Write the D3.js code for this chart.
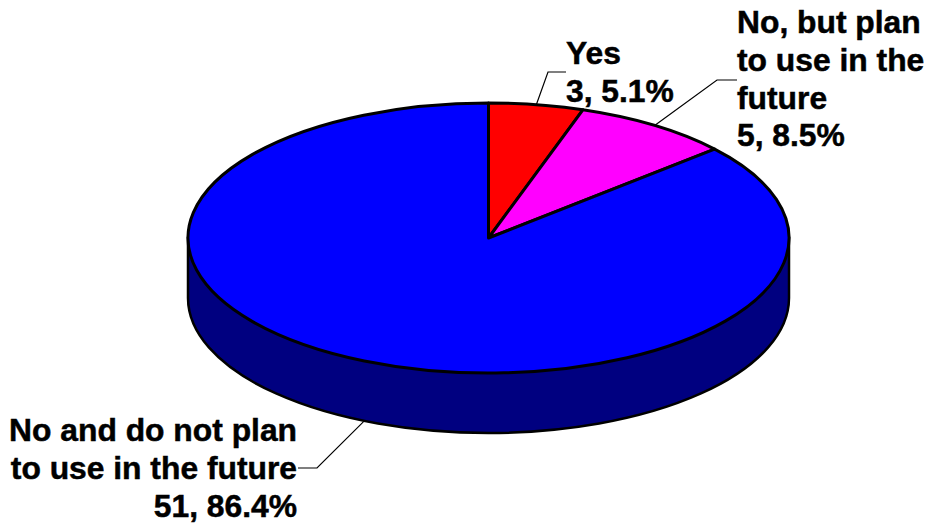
<!DOCTYPE html>
<html>
<head>
<meta charset="utf-8">
<script src="https://cdn.jsdelivr.net/npm/d3@7"></script>
<style>
  html, body { margin: 0; padding: 0; background: #fff; }
  svg { display: block; }
  text { font-family: "Liberation Sans", Arial, sans-serif; font-weight: bold; font-size: 31.8px; fill: #000; stroke: #000; stroke-width: 0.5px; }
</style>
</head>
<body>
<svg id="chart" width="927" height="523"></svg>
<script>
"use strict";

// chart values
const categories = ["Yes", "No, but plan to use in the future", "No and do not plan to use in the future"];
const counts = [3, 5, 51];
const percents = ["5.1%", "8.5%", "86.4%"];
const topColors = ["#ff0000", "#ff00ff", "#0000ff"];
const wallColor = "#000080";

// label line breaks, one list per category
const labelLines = [
  ["Yes"],
  ["No, but plan", "to use in the", "future"],
  ["No and do not plan", "to use in the future"]
];

/* Layout of the pie and the labels */
const cx = 488.5, cy = 238, rx = 300.5, ry = 135, depth = 60;
const lineHeight = 37.8;
const labelLayout = [
  { x: 566, y: 64,  anchor: "start", elbow: [548, 72],  end: 566 },
  { x: 737, y: 33,  anchor: "start", elbow: [717, 80],  end: 737 },
  { x: 297, y: 441, anchor: "end",   elbow: [317, 468], end: 298 }
];

const svg = d3.select("#chart");
const squash = ry / rx;

const pie = d3.pie().sort(null).value((d) => d)(counts);
const arc = d3.arc().innerRadius(0).outerRadius(rx);

/* Point on the rim of the ellipse for a pie angle */
function rim_point(angle, drop) {
  return [cx + rx * Math.sin(angle), cy - ry * Math.cos(angle) + drop];
}

/* Render the side wall of the disc */
function render_wall() {
  const g = svg.append("g").attr("transform", `translate(${cx},${cy}) scale(1,${squash})`);
  const p = d3.path();
  p.moveTo(-rx, 0);
  p.lineTo(-rx, depth / squash);
  p.arc(0, depth / squash, rx, Math.PI, 0, true);
  p.lineTo(rx, 0);
  p.closePath();
  g.append("path")
      .attr("d", p.toString())
      .attr("fill", wallColor)
      .attr("stroke", "#000")
      .attr("stroke-width", 2.5)
      .attr("vector-effect", "non-scaling-stroke");
}

/* Render the top slices */
function render_slices() {
  const g = svg.append("g").attr("transform", `translate(${cx},${cy}) scale(1,${squash})`);
  g.selectAll("path")
      .data(pie)
      .enter().append("path")
      .attr("d", arc)
      .attr("fill", (d, i) => topColors[i])
      .attr("stroke", "#000")
      .attr("stroke-width", 3)
      .attr("stroke-linejoin", "round")
      .attr("vector-effect", "non-scaling-stroke");
}

/* Render the leader lines and the label texts */
function render_labels() {
  pie.forEach((d, i) => {
    const mid = (d.startAngle + d.endAngle) / 2;
    const onWall = Math.cos(mid) < 0;
    const start = rim_point(mid, onWall ? depth : 0);
    const layout = labelLayout[i];

    svg.append("path")
        .attr("d", d3.line()([start, layout.elbow, [layout.end, layout.elbow[1]]]))
        .attr("fill", "none")
        .attr("stroke", "#000")
        .attr("stroke-width", 1.2);

    const lines = labelLines[i].concat([`${counts[i]}, ${percents[i]}`]);
    svg.append("g").selectAll("text")
        .data(lines)
        .enter().append("text")
        .text((t) => t)
        .attr("x", layout.x)
        .attr("y", (t, k) => layout.y + k * lineHeight)
        .style("text-anchor", layout.anchor);
  });
}

render_wall();
render_slices();
render_labels();
</script>
</body>
</html>
